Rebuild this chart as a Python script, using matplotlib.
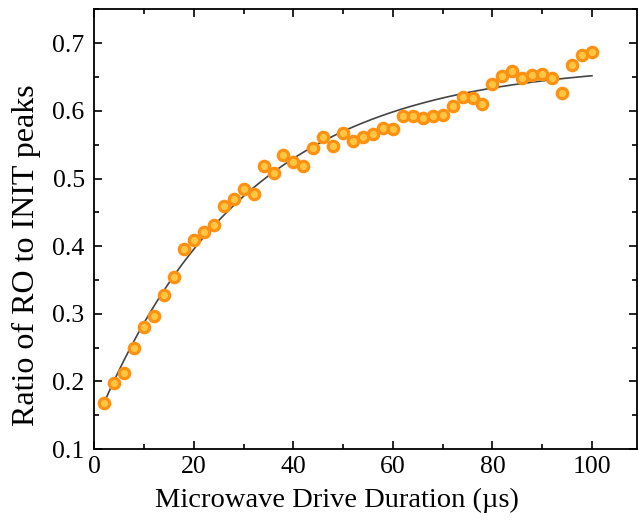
import numpy as np
import matplotlib; matplotlib.use('Agg'); import matplotlib.pyplot as plt
from matplotlib.ticker import MultipleLocator

# RO/INIT ratio vs microwave drive time (us)
t_us = np.arange(2, 101, 2)
ratio = [0.168, 0.198, 0.212, 0.250, 0.281, 0.297, 0.328, 0.354, 0.396, 0.409,
         0.421, 0.432, 0.459, 0.469, 0.485, 0.477, 0.519, 0.508, 0.535, 0.524,
         0.518, 0.545, 0.562, 0.548, 0.567, 0.556, 0.562, 0.566, 0.574, 0.573,
         0.592, 0.592, 0.589, 0.592, 0.594, 0.607, 0.621, 0.619, 0.610, 0.640,
         0.652, 0.659, 0.648, 0.653, 0.655, 0.648, 0.626, 0.668, 0.682, 0.687]

# saturating exponential fit: A - B*exp(-t/tau)
fit_A, fit_B, fit_tau = 0.671, 0.536, 30.0

plt.rcParams['font.family'] = ['Liberation Serif', 'DejaVu Serif']

fig = plt.figure(figsize=(6.38, 5.21), dpi=100)
ax = fig.add_axes([0.148, 0.138, 0.850, 0.844])

tt = np.linspace(t_us[0], t_us[-1], 300)
ax.plot(tt, fit_A - fit_B * np.exp(-tt / fit_tau), color='#444444', lw=1.2, zorder=2)
ax.plot(t_us, ratio, 'o', ms=7.5, mfc='#FFC642', mec='#FF9112', mew=2.3, zorder=3)

ax.set_xlim(0, 109)
ax.set_ylim(0.1, 0.75)
ax.xaxis.set_major_locator(MultipleLocator(20))
ax.xaxis.set_minor_locator(MultipleLocator(10))
ax.yaxis.set_major_locator(MultipleLocator(0.1))
ax.yaxis.set_minor_locator(MultipleLocator(0.05))
ax.tick_params(which='both', direction='in', top=True, right=True, labelsize=18.5, width=1.2)
ax.tick_params(axis='y', pad=7)
ax.tick_params(axis='x', pad=5)
ax.tick_params(which='major', length=6)
ax.tick_params(which='minor', length=3.5)
for s in ax.spines.values():
    s.set_linewidth(1.3)

ax.set_xlabel('Microwave Drive Duration (µs)', fontsize=20.5)
ax.set_ylabel('Ratio of RO to INIT peaks', fontsize=23)
ax.xaxis.set_label_coords(0.447, -0.088, transform=ax.transAxes)
ax.yaxis.set_label_coords(-0.098, 0.44, transform=ax.transAxes)

fig.savefig('out.png', dpi=100)
